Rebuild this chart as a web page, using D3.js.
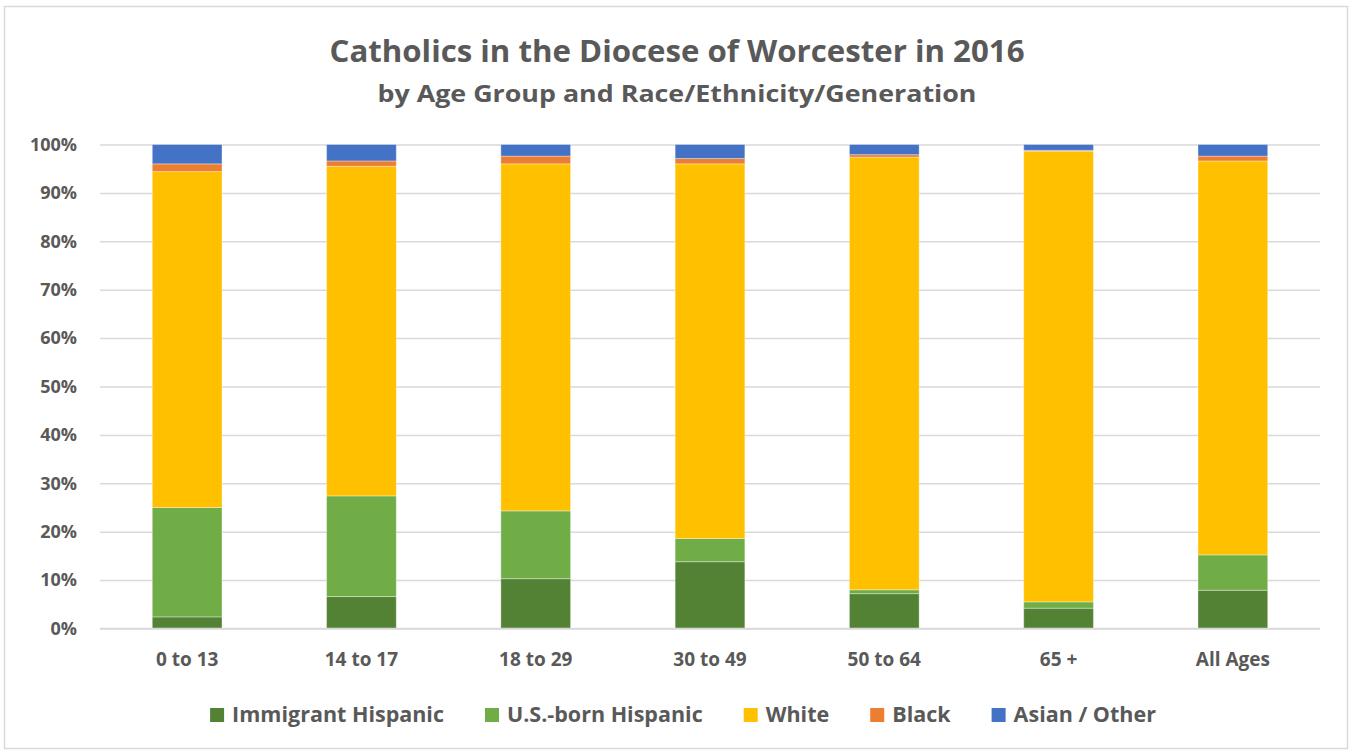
<!DOCTYPE html>
<html lang="en">
<head>
    <meta charset="UTF-8">
    <title>Catholics in the Diocese of Worcester in 2016</title>
    <script src="https://cdnjs.cloudflare.com/ajax/libs/d3/7.8.2/d3.min.js"></script>
    <style>
        body{
            margin: 0;
            background: white;
        }
        svg text{
            font-family: "Open Sans", "Liberation Sans", sans-serif;
            font-weight: bold;
            fill: #595959;
        }
    </style>
</head>
<body>
    <div class="container"></div>
    <script>
        // data (percent of each age group)
        let ageGroups = ['0 to 13', '14 to 17', '18 to 29', '30 to 49', '50 to 64', '65 +', 'All Ages'];
        let seriesNames = ['Immigrant Hispanic', 'U.S.-born Hispanic', 'White', 'Black', 'Asian / Other'];
        let immigrantHispanic = [2.4, 6.6, 10.3, 13.8, 7.2, 4.2, 7.9];
        let usBornHispanic    = [22.6, 20.8, 14.0, 4.8, 0.8, 1.3, 7.3];
        let white             = [69.4, 68.1, 71.7, 77.4, 89.4, 93.1, 81.4];
        let black             = [1.6, 1.1, 1.6, 1.1, 0.5, 0.2, 1.0];
        let asianOther        = [4.0, 3.4, 2.4, 2.9, 2.1, 1.2, 2.4];
        let yTicks = [0, 10, 20, 30, 40, 50, 60, 70, 80, 90, 100];
        let colors = ['#548235', '#70ad47', '#ffc000', '#ed7d31', '#4472c4'];

        let width = 1351;
        let height = 751;
        let plotLeft = 100;
        let plotRight = 1320;
        let plotTop = 144.5;
        let plotBottom = 628.5;

        let svg = d3.select('.container').append('svg')
                    .attr('width', width)
                    .attr('height', height)

        // chart frame
        svg.append('rect')
           .attr('x', 4.5).attr('y', 6.5)
           .attr('width', 1343).attr('height', 742)
           .attr('fill', 'white')
           .attr('stroke', '#d9d9d9')
           .attr('stroke-width', 1.5)

        svg.append('text')
           .attr('x', 677).attr('y', 62)
           .attr('text-anchor', 'middle')
           .attr('font-size', 30)
           .attr('textLength', 695)
           .attr('lengthAdjust', 'spacingAndGlyphs')
           .text('Catholics in the Diocese of Worcester in 2016')

        svg.append('text')
           .attr('x', 677).attr('y', 102)
           .attr('text-anchor', 'middle')
           .attr('font-size', 24)
           .attr('textLength', 599)
           .attr('lengthAdjust', 'spacingAndGlyphs')
           .text('by Age Group and Race/Ethnicity/Generation')

        let xScale = d3.scaleBand()
                       .domain(ageGroups)
                       .range([plotLeft, plotRight])
                       .paddingInner(0.6)
                       .paddingOuter(0.3)

        let yScale = d3.scaleLinear()
                       .domain([0, 100])
                       .range([plotBottom, plotTop])

        // gridlines + y labels
        let yAxis = d3.axisLeft(yScale)
                      .tickValues(yTicks)
                      .tickSize(-(plotRight - plotLeft))
                      .tickPadding(23)
                      .tickFormat(d => d + '%')

        let yG = svg.append('g')
                    .attr('transform', `translate(${plotLeft},0)`)
                    .call(yAxis)
        yG.select('.domain').remove()
        yG.selectAll('line').attr('stroke', '#d9d9d9').attr('stroke-width', 1.5)
        yG.selectAll('text').attr('font-size', 18).attr('fill', '#595959')
          .style('font-family', '"Open Sans", sans-serif').style('font-weight', 'bold')

        // stacked bars
        let rows = ageGroups.map((g, i) => ({
            group: g,
            'Immigrant Hispanic': immigrantHispanic[i],
            'U.S.-born Hispanic': usBornHispanic[i],
            'White': white[i],
            'Black': black[i],
            'Asian / Other': asianOther[i]
        }))

        let stacked = d3.stack().keys(seriesNames)(rows)

        svg.append('g')
           .selectAll('g')
           .data(stacked)
           .enter()
           .append('g')
           .attr('fill', (d, i) => colors[i])
           .selectAll('rect')
           .data(d => d)
           .enter()
           .append('rect')
           .attr('x', d => xScale(d.data.group))
           .attr('width', xScale.bandwidth())
           .attr('y', d => yScale(d[1]))
           .attr('height', d => yScale(d[0]) - yScale(d[1]))
           .attr('stroke', 'white')
           .attr('stroke-opacity', 0.35)
           .attr('stroke-width', 1)

        // x axis line + labels
        let xAxis = d3.axisBottom(xScale).tickSize(0).tickPadding(24)
        let xG = svg.append('g')
                    .attr('transform', `translate(0,${plotBottom})`)
                    .call(xAxis)
        xG.select('.domain').attr('stroke', '#d9d9d9').attr('stroke-width', 1.5)
          .attr('d', `M${plotLeft},0H${plotRight}`)
        xG.selectAll('text').attr('font-size', 19).attr('fill', '#595959')
          .style('font-family', '"Open Sans", sans-serif').style('font-weight', 'bold')

        // legend
        let legend = svg.append('g')
        let lx = 0
        seriesNames.forEach((name, i) => {
            let g = legend.append('g').attr('transform', `translate(${lx},0)`)
            g.append('rect')
             .attr('x', 0).attr('y', -14)
             .attr('width', 14).attr('height', 14)
             .attr('fill', colors[i])
            let t = g.append('text')
             .attr('x', 22).attr('y', 0)
             .attr('font-size', 21.5)
             .text(name)
            let w = t.node().getComputedTextLength()
            lx += 22 + w + 41
        })
        let legendWidth = lx - 41
        legend.attr('transform', `translate(${683 - legendWidth / 2},722)`)
    </script>
</body>
</html>
